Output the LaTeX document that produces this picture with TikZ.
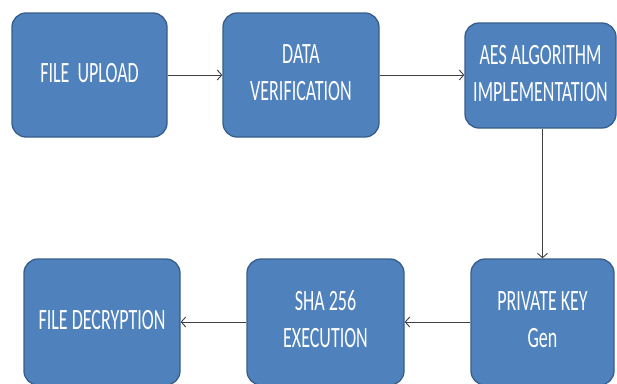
\documentclass[tikz,border=0pt]{standalone}
\usepackage{fontspec}
\setmainfont{Carlito}
\usetikzlibrary{arrows.meta}
\definecolor{stepfill}{HTML}{4F81BD}
\definecolor{stepline}{HTML}{385D8A}
\definecolor{linkgray}{HTML}{404040}
% condensed two-line label text
\newcommand{\steplabel}[1]{\scalebox{0.61}[1]{\fontsize{29.5}{37}\selectfont\begin{tabular}{@{}c@{}}#1\end{tabular}}}
\begin{document}
\begin{tikzpicture}[x=1pt,y=-1pt,
  stepbox/.style={draw=stepline, fill=stepfill, line width=1.3pt,
    rounded corners=14pt, text=white, inner sep=0pt, anchor=center},
  link/.style={draw=linkgray, line width=0.9pt,
    -{Straight Barb[length=4.5pt,width=10pt]}}]
\useasboundingbox (0,0) rectangle (617,383);
\node[stepbox, minimum width=155pt, minimum height=124pt] (upload) at (89.5,75) {\steplabel{FILE\ \ UPLOAD}};
\node[stepbox, minimum width=156pt, minimum height=124pt] (verify) at (301,75) {\steplabel{DATA\\VERIFICATION}};
\node[stepbox, minimum width=151pt, minimum height=105pt] (aes) at (540.5,75.5) {\steplabel{AES ALGORITHM\\IMPLEMENTATION}};
\node[stepbox, minimum width=143pt, minimum height=126pt] (key) at (542.5,322) {\steplabel{PRIVATE KEY\\Gen}};
\node[stepbox, minimum width=157pt, minimum height=126pt] (sha) at (325.5,322) {\steplabel{SHA 256\\EXECUTION}};
\node[stepbox, minimum width=156pt, minimum height=126pt] (decrypt) at (102,322) {\steplabel{FILE DECRYPTION}};
\draw[link] (upload.east) -- (upload.east -| verify.west);
\draw[link] (verify.east) -- (verify.east -| aes.west);
\draw[link] (key.north |- aes.south) -- (key.north);
\draw[link] (key.west) -- (sha.east);
\draw[link] (sha.west) -- (decrypt.east);
\end{tikzpicture}
\end{document}
